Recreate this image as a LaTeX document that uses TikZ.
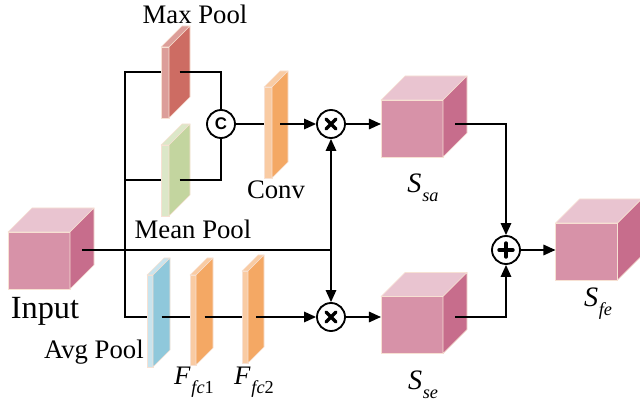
\documentclass[tikz,border=0pt]{standalone}
\usepackage{fontspec}
\setmainfont{Liberation Serif}
\setsansfont{Liberation Sans}
\usetikzlibrary{positioning,arrows.meta,calc}

\definecolor{cubefront}{HTML}{D792A8}
\definecolor{cubetop}{HTML}{E9C4D0}
\definecolor{cubeside}{HTML}{C76D8C}
\definecolor{edgepeach}{HTML}{F7E1D3}
\definecolor{maxside}{HTML}{CD6C63}
\definecolor{maxfront}{HTML}{DC9E99}
\definecolor{meanside}{HTML}{C3D59F}
\definecolor{meanfront}{HTML}{DCE7C8}
\definecolor{fcside}{HTML}{F4A864}
\definecolor{fcfront}{HTML}{F9CBA3}
\definecolor{avgside}{HTML}{8FC8DB}
\definecolor{avgfront}{HTML}{C8E4EE}

\def\pxu{0.025cm}

% thin feature map: name, at, width, height, depth, front, side
\newcommand{\featslab}[7]{%
  \node[slabface, fill=#6, minimum width=#3*\pxu, minimum height=#4*\pxu] (#1) at (#2) {};
  \filldraw[faceedge, fill=#6] (#1.north west) -- ++(#5,-#5) -- ++(#3,0) -- (#1.north east) -- cycle;
  \filldraw[faceedge, fill=#7] (#1.north east) -- ++(#5,-#5) -- ++(0,#4) -- (#1.south east) -- cycle;
  \coordinate (#1s) at ($(#1.east)+(#5/2,0)$);
}
% feature cube: name, at
\newcommand{\featcube}[2]{%
  \node[cubeface] (#1) at (#2) {};
  \filldraw[faceedge, fill=cubetop] (#1.north west) -- ++(24,-24) -- ++(62,0) -- (#1.north east) -- cycle;
  \filldraw[faceedge, fill=cubeside] (#1.north east) -- ++(24,-24) -- ++(0,57) -- (#1.south east) -- cycle;
  \coordinate (#1s) at ($(#1.east)+(12,-12)$);
}
\newcommand{\sublab}[2]{\textit{#1}\kern0.5pt\raisebox{-0.32em}{\fontsize{13}{13}\selectfont\textit{#2}}}

\begin{document}
\begin{tikzpicture}[
  x=0.025cm, y=-0.025cm,
  wire/.style={line width=1.3pt},
  arr/.style={wire, -{Triangle[length=0.3cm, width=0.26cm]}},
  slabface/.style={draw=edgepeach, line width=0.5pt, inner sep=0pt, outer sep=0pt},
  faceedge/.style={draw=edgepeach, line width=0.5pt, line join=round},
  cubeface/.style={slabface, fill=cubefront, minimum width=62*\pxu, minimum height=57*\pxu},
  opnode/.style={circle, draw, line width=1.3pt, fill=white, minimum size=28*\pxu, inner sep=0pt},
  mult/.style={opnode, path picture={
    \draw[line width=2.4pt, line cap=round]
      ([shift={(-5,-5)}]path picture bounding box.center) -- ([shift={(5,5)}]path picture bounding box.center)
      ([shift={(-5,5)}]path picture bounding box.center) -- ([shift={(5,-5)}]path picture bounding box.center);}},
  add/.style={opnode, path picture={
    \draw[line width=2.4pt, line cap=round]
      ([shift={(-7,0)}]path picture bounding box.center) -- ([shift={(7,0)}]path picture bounding box.center)
      ([shift={(0,-7)}]path picture bounding box.center) -- ([shift={(0,7)}]path picture bounding box.center);}},
  lbl/.style={font=\fontsize{19}{22}\selectfont, inner sep=0pt},
  biglbl/.style={font=\fontsize{23}{26}\selectfont, inner sep=0pt},
]
\useasboundingbox (0,0) rectangle (640,407);

% ---------- feature maps ----------
\featcube{inp}{39,260.5}
\featslab{maxp}{165,82.5}{8}{71}{21}{maxfront}{maxside}
\featslab{meanp}{165,180.5}{8}{71}{21}{meanfront}{meanside}
\featslab{conv}{268,132.5}{8}{91}{16}{fcfront}{fcside}
\featslab{avgp}{150,321}{6}{92}{17}{avgfront}{avgside}
\featslab{fc1}{193,320}{6}{90}{17}{fcfront}{fcside}
\featslab{fc2}{245,317}{6}{92}{16}{fcfront}{fcside}
\featcube{sa}{412,128.5}
\featcube{se}{412,325}
\featcube{sfe}{586.5,251.5}

% ---------- operators ----------
\node[opnode] (cat) at (221,124) {\sffamily\bfseries\fontsize{12}{12}\selectfont C};
\node[mult] (mulA) at (331,124) {};
\node[mult] (mulB) at (331,317) {};
\node[add] (plus) at (506,250) {};

\coordinate (cTop) at (221,72);
\coordinate (cBot) at (221,180);
\coordinate (tk) at (125,250);
\coordinate (jn) at (331,250);

% ---------- labels ----------
\node[lbl] (maxlbl) at (195,14) {Max Pool};
\node[lbl] (convlbl) at (276,190) {Conv};
\node[lbl] (meanlbl) at (193,229) {Mean Pool};
\node[biglbl] (inplbl) at (45,311) {Input};
\node[lbl, anchor=east] (avglbl) at (144,352) {Avg Pool};
\node[lbl] (fc1lbl) at (194,382) {\sublab{F}{fc\textup{1}}};
\node[lbl] (fc2lbl) at (254,382) {\sublab{F}{fc\textup{2}}};
\node[lbl, font=\fontsize{20}{22}\selectfont] (salbl) at (423,188) {\sublab{S}{sa}};
\node[lbl, font=\fontsize{20}{22}\selectfont] (selbl) at (423,385) {\sublab{S}{se}};
\node[lbl, font=\fontsize{20}{22}\selectfont] (sfelbl) at (598,304) {\sublab{S}{fe}};

% ---------- connections ----------
\draw[wire] (maxp.west |- cTop) -| (tk) |- (avgp.west |- mulB);
\draw[wire] (tk |- cBot) -- (meanp.west |- cBot);
\draw[wire] (maxps |- cTop) -- (cTop) -- (cat);
\draw[wire] (meanps |- cBot) -| (cat);
\draw[wire] (cat) -- (conv.west |- cat);
\draw[arr] (convs |- cat) -- (mulA);
\draw[wire] (inps |- jn) -- (jn);
\draw[arr] (jn) -- (mulA);
\draw[arr] (jn) -- (mulB);
\draw[wire] (avgps |- mulB) -- (fc1.west |- mulB);
\draw[wire] (fc1s |- mulB) -- (fc2.west |- mulB);
\draw[arr] (fc2s |- mulB) -- (mulB);
\draw[arr] (mulA) -- (sa.west |- mulA);
\draw[arr] (mulB) -- (se.west |- mulB);
\draw[arr] (sas |- mulA) -| (plus);
\draw[arr] (ses |- mulB) -| (plus);
\draw[arr] (plus) -- (sfe.west |- plus);
\end{tikzpicture}
\end{document}
